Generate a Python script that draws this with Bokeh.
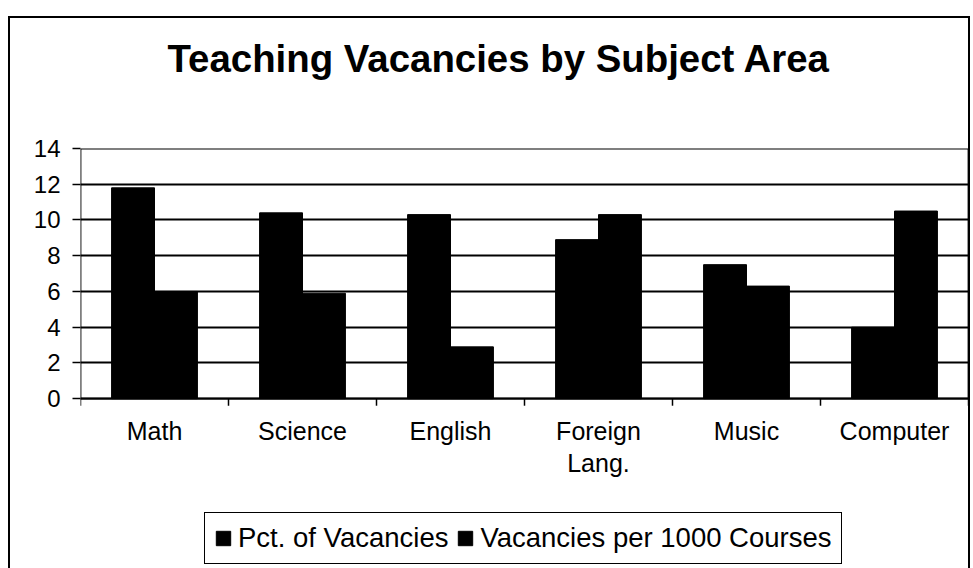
from bokeh.plotting import figure
from bokeh.models import FixedTicker, Range1d, Legend, LegendItem, ColumnDataSource, Title
from bokeh.core.properties import value
from bokeh.embed import file_html
from bokeh.resources import INLINE

categories = ["Math", "Science", "English", "Foreign\nLang.", "Music", "Computer"]
pct_vacancies = [11.8, 10.4, 10.3, 8.9, 7.5, 4.0]
per_1000 = [6.0, 5.9, 2.9, 10.3, 6.3, 10.5]
y_ticks = [0, 2, 4, 6, 8, 10, 12, 14]
y_max = 14

FONT = "Liberation Sans"
bw = 0.29

# layout in page pixels
TOP_PX, ZERO_PX, BOTTOM_PX = 148, 397, 568
ppu = (ZERO_PX - TOP_PX) / y_max          # pixels per data unit
y_min = -(BOTTOM_PX - ZERO_PX) / ppu

n = len(categories)
idx = list(range(n))
src = ColumnDataSource(dict(
    x1=[i + 0.5 - bw / 2 for i in idx],
    x2=[i + 0.5 + bw / 2 for i in idx],
    a=pct_vacancies, b=per_1000))

p = figure(width=962, height=552, output_backend="svg", toolbar_location=None,
           x_range=Range1d(0, n), y_range=Range1d(y_min, y_max),
           x_axis_location=None,
           min_border_left=70, min_border_right=4, min_border_top=130, min_border_bottom=0)
p.styles = {"border-left": "2px solid black", "border-top": "2px solid black",
            "border-right": "2px solid black", "box-sizing": "border-box",
            "margin-left": "8px", "margin-top": "16px"}

spacer_top = Title(text=" ", text_font_size="2px", standoff=62)
p.add_layout(spacer_top, "above")
main_title = Title(text="Teaching Vacancies by Subject Area", text_font=FONT,
                   text_font_size="38.4px", text_font_style="bold", text_color="black",
                   align="left", offset=87, standoff=6)
p.add_layout(main_title, "above")

p.xgrid.grid_line_color = None
p.ygrid.ticker = FixedTicker(ticks=y_ticks)
p.ygrid.grid_line_color = "black"
p.ygrid.grid_line_width = 1.8
p.outline_line_color = None
p.background_fill_color = "white"

r1 = p.vbar(x="x1", top="a", width=bw, bottom=0, source=src, fill_color="black", line_color="black")
r2 = p.vbar(x="x2", top="b", width=bw, bottom=0, source=src, fill_color="black", line_color="black")

# plot-area border
p.quad(left=[0], right=[n], bottom=[0], top=[y_max], fill_color=None,
       line_color="black", line_width=1.8)

# category divider ticks
bounds = list(range(n + 1))
p.segment(x0=bounds, y0=[0] * len(bounds), x1=bounds, y1=[-7 / ppu] * len(bounds),
          line_color="black", line_width=1.5)

# category labels
p.text(x=[i + 0.5 for i in idx], y=[-18 / ppu] * n, text=categories,
       text_font=value(FONT), text_font_size="25px", text_color="black",
       text_align="center", text_baseline="top", text_line_height=1.15)

p.yaxis.ticker = FixedTicker(ticks=y_ticks)
p.yaxis.axis_line_color = None
p.yaxis.major_tick_out = 8
p.yaxis.major_tick_in = 0
p.yaxis.minor_tick_line_color = None
p.yaxis.major_tick_line_color = "black"
p.yaxis.major_tick_line_width = 1.5
p.yaxis.major_label_text_font = FONT
p.yaxis.major_label_text_font_size = "24px"
p.yaxis.major_label_text_color = "black"
p.yaxis.major_label_standoff = 12

legend = Legend(items=[LegendItem(label="Pct. of Vacancies", renderers=[r1]),
                       LegendItem(label="Vacancies per 1000 Courses", renderers=[r2])],
                orientation="horizontal", location=(124, 6))
legend.label_text_font = FONT
legend.label_text_font_size = "27.5px"
legend.label_text_color = "black"
legend.glyph_width = 18
legend.glyph_height = 18
legend.spacing = 8
legend.label_standoff = 6
legend.padding = 9
legend.margin = 0
legend.border_line_color = "black"
legend.border_line_alpha = 1.0
legend.border_line_width = 1.5
legend.background_fill_alpha = 1
p.add_layout(legend, "center")

open("out.html", "w").write(file_html(p, INLINE))
